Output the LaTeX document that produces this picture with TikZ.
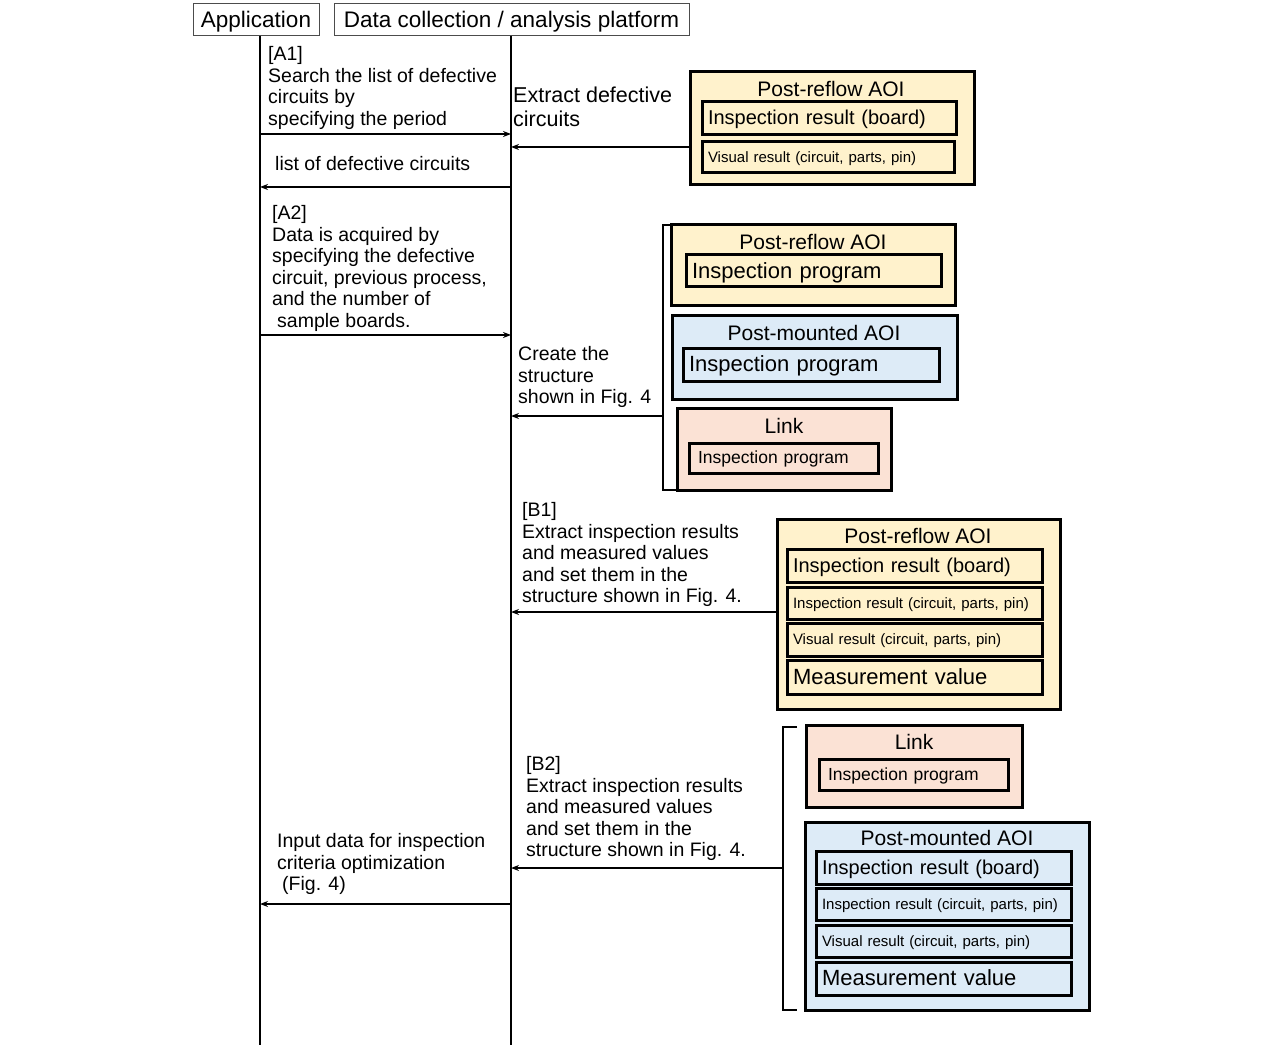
\documentclass[tikz,border=0pt]{standalone}
\usepackage{fontspec}
\setmainfont{Liberation Sans}
\usetikzlibrary{arrows.meta,positioning}
\definecolor{reflowyellow}{HTML}{FFF2CC}
\definecolor{mountblue}{HTML}{DDEBF7}
\definecolor{linkpink}{HTML}{FBE2D5}

\tikzset{
	head/.style={draw=black!70, line width=1pt, inner sep=0pt, outer sep=0pt, minimum height=32, text height=16pt, text depth=1.5pt, anchor=north west, font=\fontsize{22.5}{25}\selectfont},
	life/.style={line width=2.5pt},
	msg/.style={line width=2pt, -{Stealth[length=8pt,width=6pt]}},
	note/.style={anchor=north west, inner sep=0pt, align=left, font=\fontsize{19.5}{21.5}\selectfont},
	aoi/.style={draw, line width=3pt, anchor=north west, inner sep=0pt, outer sep=0pt},
	aoititle/.style={inner sep=0pt, font=\fontsize{21}{24}\selectfont},
	field/.style={draw, line width=3pt, anchor=north west, inner xsep=6pt, inner ysep=0pt, outer sep=0pt, text height=15pt, text depth=2pt, align=left, font=\fontsize{20}{22}\selectfont},
	bigfield/.style={field, text height=16pt, text depth=1.7pt, font=\fontsize{22}{24}\selectfont},
	smallfield/.style={field, text height=11pt, text depth=1pt, font=\fontsize{15}{17}\selectfont},
	linkfield/.style={field, text height=13pt, text depth=1.5pt, inner xsep=9pt, font=\fontsize{17.5}{20}\selectfont},
	brace/.style={line width=2.5pt}
}

\begin{document}
\begin{tikzpicture}[x=1pt,y=-1pt]
	\useasboundingbox (0,0) rectangle (1284,1048);
	% lifelines
	\node[head, minimum width=126] (app) at (193,4) {Application};
	\node[head, minimum width=355] (plat) at (334,4) {Data collection / analysis platform};
	\coordinate (appL) at (260,36);
	\coordinate (platL) at (511,36);
	\coordinate (appE) at (260,1045);
	\coordinate (platE) at (511,1045);
	\draw[life] (appL) -- (appE);
	\draw[life] (platL) -- (platE);
	\foreach \y/\nm in {134/a1, 147/ex, 187/ls, 335/a2, 416/cr, 612/b1, 868/b2, 904/in} {
		\coordinate (\nm-app) at (260,\y);
		\coordinate (\nm-plat) at (511,\y);
	}

	% messages texts
	\node[note] (a1txt) at (268,46.5) {[A1]\\Search the list of defective\\circuits by\\specifying the period};
	\node[note, font=\fontsize{21.5}{24}\selectfont] (extxt) at (513,87) {Extract defective\\circuits};
	\node[note] (lstxt) at (275,156.5) {list of defective circuits};
	\node[note] (a2txt) at (272,205.5) {[A2]\\Data is acquired by\\specifying the defective\\circuit, previous process,\\and the number of\\\hspace{5pt}sample boards.};
	\node[note] (crtxt) at (518,346.5) {Create the\\structure\\shown in Fig. 4};
	\node[note] (b1txt) at (522,502.5) {[B1]\\Extract inspection results\\and measured values\\and set them in the\\structure shown in Fig. 4.};
	\node[note] (b2txt) at (526,756.5) {[B2]\\Extract inspection results\\and measured values\\and set them in the\\structure shown in Fig. 4.};
	\node[note] (intxt) at (277,833.5) {Input data for inspection\\criteria optimization\\\hspace{5pt}(Fig. 4)};

	% A1 result boxes
	\node[aoi, fill=reflowyellow, minimum width=284, minimum height=113] (prA) at (690,72) {};
	\node[aoititle] (prAt) at (831,89) {Post-reflow AOI};
	\node[field, text width=242, minimum height=33] (prA1) at (702,102) {Inspection result (board)};
	\node[smallfield, text width=240, minimum height=31] (prA2) at (702,142) {Visual result (circuit, parts, pin)};

	% structure boxes
	\node[aoi, fill=reflowyellow, minimum width=284, minimum height=81] (prB) at (671,225) {};
	\node[aoititle] (prBt) at (813,242) {Post-reflow AOI};
	\node[bigfield, text width=243, minimum height=32] (prB1) at (686,255) {Inspection program};
	\node[aoi, fill=mountblue, minimum width=285, minimum height=83] (pmB) at (672,316) {};
	\node[aoititle] (pmBt) at (814,333) {Post-mounted AOI};
	\node[bigfield, text width=244, minimum height=33] (pmB1) at (683,348) {Inspection program};
	\node[aoi, fill=linkpink, minimum width=214, minimum height=82] (lkB) at (677,408) {};
	\node[aoititle] (lkBt) at (784,426) {Link};
	\node[linkfield, text width=171, minimum height=30] (lkB1) at (689,443) {Inspection program};
	\coordinate (brBtop) at (663,225);
	\coordinate (brBbot) at (663,490);
	\draw[brace] (prB.north west) -- (brBtop) -- (brBbot) -- (lkB.south west);

	% B1 boxes
	\node[aoi, fill=reflowyellow, minimum width=283, minimum height=190] (prC) at (777,519) {};
	\node[aoititle] (prCt) at (918,536) {Post-reflow AOI};
	\node[field, text width=243, minimum height=33] (prC1) at (787,549) {Inspection result (board)};
	\node[smallfield, text width=243, minimum height=32] (prC2) at (787,587) {Inspection result (circuit, parts, pin)};
	\node[smallfield, text width=243, minimum height=33] (prC3) at (787,623) {Visual result (circuit, parts, pin)};
	\node[bigfield, text width=243, minimum height=34] (prC4) at (787,660) {Measurement value};

	% B2 boxes
	\node[aoi, fill=linkpink, minimum width=216, minimum height=82] (lkD) at (806,725) {};
	\node[aoititle] (lkDt) at (914,742) {Link};
	\node[linkfield, text width=171, minimum height=31] (lkD1) at (819,759) {Inspection program};
	\node[aoi, fill=mountblue, minimum width=284, minimum height=188] (pmD) at (805,822) {};
	\node[aoititle] (pmDt) at (947,838) {Post-mounted AOI};
	\node[field, text width=243, minimum height=33] (pmD1) at (816,851) {Inspection result (board)};
	\node[smallfield, text width=243, minimum height=32] (pmD2) at (816,888) {Inspection result (circuit, parts, pin)};
	\node[smallfield, text width=243, minimum height=32] (pmD3) at (816,925) {Visual result (circuit, parts, pin)};
	\node[bigfield, text width=243, minimum height=33] (pmD4) at (816,962) {Measurement value};
	\coordinate (brDtop) at (783,727);
	\coordinate (brDbot) at (783,1010);
	\draw[brace] ([xshift=14pt]brDtop) -- (brDtop) -- (brDbot) -- ++(14,0);

	% arrows
	\draw[msg] (a1-app) -- (a1-plat);
	\draw[msg] (prA.west |- ex-plat) -- (ex-plat);
	\draw[msg] (ls-plat) -- (ls-app);
	\draw[msg] (a2-app) -- (a2-plat);
	\draw[msg] (brBtop |- cr-plat) -- (cr-plat);
	\draw[msg] (prC.west |- b1-plat) -- (b1-plat);
	\draw[msg] (brDtop |- b2-plat) -- (b2-plat);
	\draw[msg] (in-plat) -- (in-app);
\end{tikzpicture}
\end{document}
